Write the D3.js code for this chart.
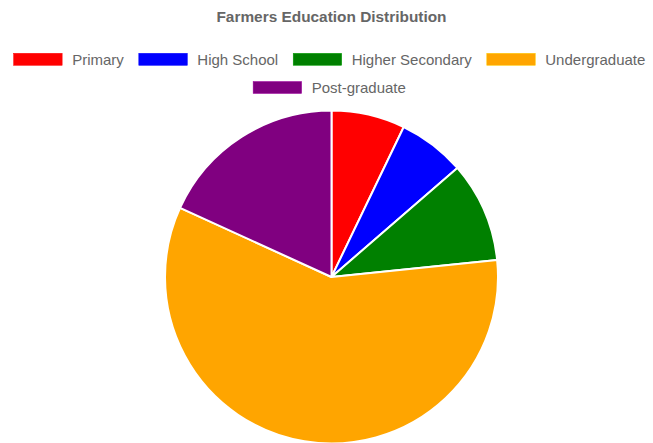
<!DOCTYPE html>
<html>
<head>
<meta charset="utf-8">
<script src="https://cdn.jsdelivr.net/npm/d3@7"></script>
<style>
  html, body { margin: 0; padding: 0; background: #fff; overflow: hidden; }
  svg { display: block; font-family: "Liberation Sans", Arial, Helvetica, sans-serif; }
</style>
</head>
<body>
<div id="chart"></div>
<script>
const title = 'Farmers Education Distribution';
const categories = ['Primary', 'High School', 'Higher Secondary', 'Undergraduate', 'Post-graduate'];
const values = [11, 10, 15, 90, 28];
const colors = ['red', 'blue', 'green', 'orange', 'purple'];

const width = 653;
const height = 443;

const svg = d3.select('#chart')
  .append('svg')
  .attr('width', width)
  .attr('height', height);

// Title
svg.append('text')
  .attr('x', 331.5)
  .attr('y', 22)
  .attr('text-anchor', 'middle')
  .attr('fill', '#666')
  .attr('font-size', '15.4px')
  .attr('font-weight', 'bold')
  .text(title);

// Legend (wrapped into centred rows, like Chart.js)
const boxW = 48.5, boxH = 12, textGap = 10, itemGap = 15, fontSize = 15;
const legend = svg.append('g');
const items = categories.map((c, i) => {
  const g = legend.append('g');
  g.append('rect')
    .attr('width', boxW)
    .attr('height', boxH)
    .attr('fill', colors[i])
    .attr('stroke', d3.color(colors[i]).brighter(0.6))
    .attr('stroke-width', 0.5);
  const t = g.append('text')
    .attr('x', boxW + textGap)
    .attr('fill', '#666')
    .attr('font-size', fontSize + 'px')
    .text(c);
  const w = boxW + textGap + t.node().getComputedTextLength();
  return { g, t, w };
});

const rows = [];
let row = [], rowW = 0;
items.forEach((it) => {
  const add = row.length ? itemGap + it.w : it.w;
  if (row.length && rowW + add > width - 10) {
    rows.push({ row, rowW });
    row = [it];
    rowW = it.w;
  } else {
    row.push(it);
    rowW += add;
  }
});
rows.push({ row, rowW });

const rowTop = [53.3, 81.5];
rows.forEach((r, ri) => {
  let x = 329.5 - r.rowW / 2;
  const y = rowTop[ri] !== undefined ? rowTop[ri] : 53.3 + ri * 28.2;
  r.row.forEach((it) => {
    it.g.attr('transform', `translate(${x},${y})`);
    it.t.attr('y', boxH / 2 + 5.3);
    x += it.w + itemGap;
  });
});

// Pie
const cx = 331.5, cy = 277, radius = 166.5;
const pie = d3.pie().sort(null).value((d) => d);
const arc = d3.arc().innerRadius(0).outerRadius(radius);

svg.append('g')
  .attr('transform', `translate(${cx},${cy})`)
  .selectAll('path')
  .data(pie(values))
  .enter()
  .append('path')
  .attr('d', arc)
  .attr('fill', (d, i) => colors[i])
  .attr('stroke', '#fff')
  .attr('stroke-width', 2)
  .attr('stroke-linejoin', 'bevel');
</script>
</body>
</html>
